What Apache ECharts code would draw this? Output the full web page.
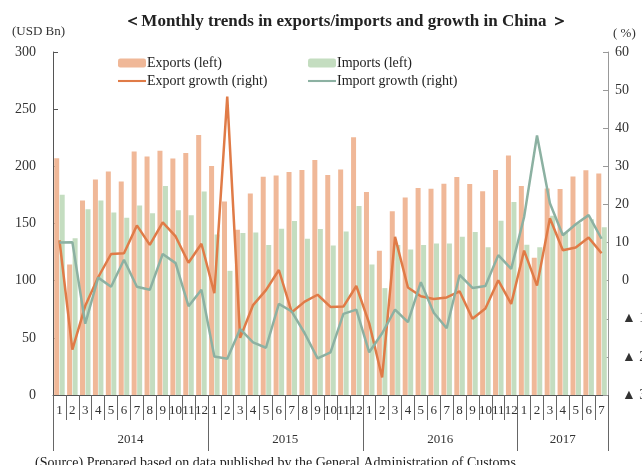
<!DOCTYPE html>
<html>
<head>
<meta charset="utf-8">
<script src="https://cdn.jsdelivr.net/npm/echarts@6/dist/echarts.min.js"></script>
<style>
html,body{margin:0;padding:0;background:#fff;overflow:hidden;}
#chart{width:642px;height:465px;}
</style>
</head>
<body>
<div id="chart"></div>
<script>
const years = ['2014', '2015', '2016', '2017'];
const monthsPerYear = [12, 12, 12, 7];
const monthLabels = ['1','2','3','4','5','6','7','8','9','10','11','12'];

// USD Bn
const exportsData = [
  207.1, 114.1, 170.1, 188.5, 195.5, 186.8, 213.0, 208.6, 213.7, 206.9, 211.7, 227.5,
  200.3, 169.2, 144.6, 176.3, 190.8, 192.0, 195.1, 196.7, 205.6, 192.4, 197.2, 225.5,
  177.5, 126.1, 160.8, 172.8, 181.1, 180.5, 184.7, 190.6, 184.5, 178.2, 196.9, 209.4,
  182.8, 120.1, 180.6, 180.2, 191.1, 196.5, 193.7
];
const importsData = [
  175.2, 137.0, 162.4, 170.1, 159.6, 155.1, 165.8, 158.9, 182.8, 161.5, 157.2, 178.0,
  140.3, 108.6, 141.6, 142.2, 131.3, 145.5, 152.1, 136.6, 145.2, 130.7, 143.1, 165.3,
  114.2, 93.5, 131.3, 127.3, 131.1, 132.4, 132.4, 138.5, 142.5, 129.3, 152.4, 168.7,
  131.4, 129.2, 156.7, 142.2, 150.3, 153.7, 146.7
];
// %
const exportGrowth = [
  10.6, -18.1, -6.6, 0.9, 7.0, 7.2, 14.5, 9.4, 15.3, 11.6, 4.7, 9.7,
  -3.3, 48.3, -15.0, -6.4, -2.5, 2.8, -8.3, -5.5, -3.7, -6.9, -6.8, -1.4,
  -11.2, -25.4, 11.5, -1.8, -4.1, -4.8, -4.4, -2.8, -10.0, -7.3, 0.1, -6.1,
  7.9, -1.3, 16.4, 8.0, 8.7, 11.3, 7.2
];
const importGrowth = [
  10.0, 10.1, -11.3, 0.8, -1.6, 5.5, -1.6, -2.4, 7.0, 4.6, -6.7, -2.4,
  -19.9, -20.5, -12.7, -16.2, -17.6, -6.1, -8.1, -13.8, -20.4, -18.8, -8.7, -7.6,
  -18.8, -13.8, -7.6, -10.9, -0.4, -8.4, -12.5, 1.5, -1.9, -1.4, 6.7, 3.1,
  16.7, 38.1, 20.3, 11.9, 14.8, 17.2, 11.0
];

const leftTicks = {min: 0, max: 300, interval: 50};
const rightTicks = {min: -30, max: 60, interval: 10};

// build categories
const categories = [];
const yearStart = [];
years.forEach((y, yi) => {
  yearStart.push(categories.length);
  for (let m = 0; m < monthsPerYear[yi]; m++) categories.push(y + '/' + monthLabels[m]);
});
// year label placement
const yearLabelAt = {};
years.forEach((y, yi) => {
  const n = monthsPerYear[yi];
  if (n % 2 === 0) yearLabelAt[yearStart[yi] + n / 2 - 1] = '{s|' + y + '}';
  else yearLabelAt[yearStart[yi] + (n - 1) / 2] = '{c|' + y + '}';
});
const boundaries = new Set(yearStart.concat([categories.length]));

const FONT = '"Liberation Serif", "DejaVu Serif", serif';
const C_EXP_BAR = '#f0b898';
const C_IMP_BAR = '#c4ddc0';
const C_EXP_LINE = '#e07b47';
const C_IMP_LINE = '#8cb1a2';
const LINE_ICON = 'path://M0,0H40V3H0Z';

const chart = echarts.init(document.getElementById('chart'), null, {renderer: 'canvas'});
chart.setOption({
  animation: false,
  backgroundColor: '#fff',
  textStyle: {fontFamily: FONT},
  title: [
    {text: '＜Monthly trends in exports/imports and growth in China ＞', left: 341, top: 8, textAlign: 'center',
     textStyle: {fontFamily: FONT, fontSize: 17, fontWeight: 'bold', color: '#222'}},
    {text: '(USD Bn)', left: 7, top: 20, textStyle: {fontFamily: FONT, fontSize: 13, fontWeight: 'normal', color: '#333'}},
    {text: '( %)', left: 608, top: 22, textStyle: {fontFamily: FONT, fontSize: 13, fontWeight: 'normal', color: '#333'}},
    {text: '(Source) Prepared based on data published by the General Administration of Customs', left: 30, top: 451,
     textStyle: {fontFamily: FONT, fontSize: 14, fontWeight: 'normal', color: '#222'}}
  ],
  legend: [
    {left: 113, top: 51, orient: 'vertical', itemGap: 4, itemWidth: 28, itemHeight: 9,
     textStyle: {fontFamily: FONT, fontSize: 14, color: '#222', padding: [0, 0, 0, -4]},
     data: ['Exports (left)', {name: 'Export growth (right)', icon: LINE_ICON}]},
    {left: 303, top: 51, orient: 'vertical', itemGap: 4, itemWidth: 28, itemHeight: 9,
     textStyle: {fontFamily: FONT, fontSize: 14, color: '#222', padding: [0, 0, 0, -4]},
     data: ['Imports (left)', {name: 'Import growth (right)', icon: LINE_ICON}]}
  ],
  grid: {left: 53, right: 34, top: 52, bottom: 70, containLabel: false, outerBoundsMode: 'none'},
  xAxis: [
    {
      type: 'category', data: categories, position: 'bottom', boundaryGap: true,
      axisLine: {onZero: false, lineStyle: {color: '#555', width: 1}},
      axisTick: {show: true, interval: 0, length: 25, lineStyle: {color: '#666'}},
      axisLabel: {interval: 0, margin: 9, fontFamily: FONT, fontSize: 13, color: '#333',
        formatter: v => v.split('/')[1]}
    },
    {
      type: 'category', data: categories, position: 'bottom', boundaryGap: true,
      axisLine: {show: false, onZero: false},
      axisTick: {show: true, length: 56, lineStyle: {color: '#666'},
        interval: (i) => boundaries.has(i)},
      axisLabel: {margin: 38, fontFamily: FONT, fontSize: 13, color: '#333',
        interval: (i) => yearLabelAt[i] !== undefined,
        formatter: (v, i) => yearLabelAt[i] || '',
        rich: {s: {fontFamily: FONT, fontSize: 13, color: '#333', padding: [0, 0, 0, 13]},
               c: {fontFamily: FONT, fontSize: 13, color: '#333'}}}
    }
  ],
  yAxis: [
    {
      type: 'value', position: 'left', min: leftTicks.min, max: leftTicks.max, interval: leftTicks.interval,
      axisLine: {show: true, onZero: false, lineStyle: {color: '#555'}},
      axisTick: {show: true, inside: true, length: 5, lineStyle: {color: '#555'}},
      splitLine: {show: false},
      axisLabel: {margin: 17, fontFamily: FONT, fontSize: 14, color: '#333'}
    },
    {
      type: 'value', position: 'right', min: rightTicks.min, max: rightTicks.max, interval: rightTicks.interval,
      axisLine: {show: true, onZero: false, lineStyle: {color: '#999'}},
      axisTick: {show: true, inside: true, length: 5, lineStyle: {color: '#999'}},
      splitLine: {show: false},
      axisLabel: {margin: 7, fontFamily: FONT, fontSize: 14, color: '#333',
        formatter: v => v < 0 ? '{n|▲ ' + Math.abs(v) + '}' : (v === 0 ? '{n|0}' : String(v)),
        rich: {n: {fontFamily: FONT, fontSize: 14, color: '#333', padding: [0, 0, 0, 7]}}}
    }
  ],
  series: [
    {name: 'Exports (left)', type: 'bar', xAxisIndex: 0, yAxisIndex: 0, data: exportsData,
     barWidth: 5, barGap: '10%', itemStyle: {color: C_EXP_BAR}},
    {name: 'Imports (left)', type: 'bar', xAxisIndex: 0, yAxisIndex: 0, data: importsData,
     barWidth: 5, barGap: '10%', itemStyle: {color: C_IMP_BAR}},
    {name: 'Export growth (right)', type: 'line', xAxisIndex: 0, yAxisIndex: 1, data: exportGrowth,
     symbol: 'none', lineStyle: {color: C_EXP_LINE, width: 2.5}, itemStyle: {color: C_EXP_LINE}},
    {name: 'Import growth (right)', type: 'line', xAxisIndex: 0, yAxisIndex: 1, data: importGrowth,
     symbol: 'none', lineStyle: {color: C_IMP_LINE, width: 2.5}, itemStyle: {color: C_IMP_LINE}}
  ]
});
</script>
</body>
</html>
